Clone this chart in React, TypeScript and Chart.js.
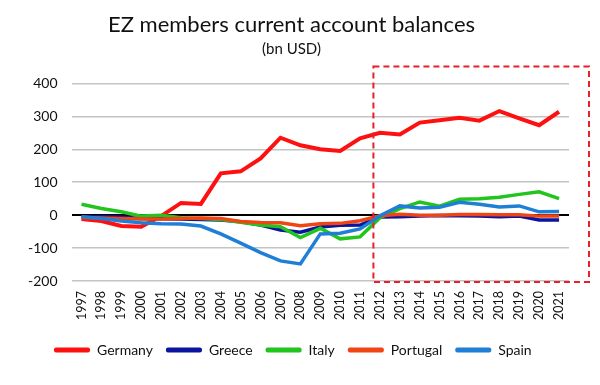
import React, { useEffect, useRef } from "react";
import { Chart, registerables } from "chart.js";
Chart.register(...registerables);

const years = ["1997","1998","1999","2000","2001","2002","2003","2004","2005","2006","2007","2008","2009","2010","2011","2012","2013","2014","2015","2016","2017","2018","2019","2020","2021"];
const germany = [-12,-18,-33,-35,-3,37,34,127,133,172,235,212,200,195,233,250,245,281,288,296,287,316,294,273,314];
const greece = [-5,-5,-6,-10,-11,-12,-13,-15,-20,-30,-45,-52,-36,-31,-30,-6,-5,-3,-1,-2,-3,-5,-3,-15,-15];
const italy = [33,20,10,-3,0,-8,-10,-13,-22,-30,-35,-68,-40,-72,-66,-8,20,40,27,48,50,54,63,71,50];
const portugal = [-7,-9,-10,-12,-12,-10,-9,-10,-19,-22,-23,-32,-26,-25,-17,-2,3,0,0,2,2,1,1,-3,-3];
const spain = [-5,-10,-18,-23,-26,-27,-33,-57,-85,-114,-139,-148,-57,-55,-42,-2,28,22,24,39,33,25,28,10,11];

const seriesNames = ["Germany", "Greece", "Italy", "Portugal", "Spain"];
const seriesColors = ["#ff1010", "#0a149c", "#22c41e", "#f04414", "#1f7fd6"];
const seriesData = [germany, greece, italy, portugal, spain];
const seriesWidths = [4, 3.5, 3.5, 3.5, 3.5];

const titleText = "EZ members current account balances";
const subtitleText = "(bn USD)";

const boxPlugin = {
  id: "dashedBox",
  afterDraw(chart: any) {
    const x = chart.scales.x;
    const y = chart.scales.y;
    const step = x.getPixelForValue(1) - x.getPixelForValue(0);
    const left = x.getPixelForValue(years.indexOf("2012")) - step * 0.33;
    const right = chart.chartArea.right + 20;
    const top = y.getPixelForValue(451);
    const bottom = y.getPixelForValue(-203);
    const ctx = chart.ctx;
    ctx.save();
    ctx.strokeStyle = "#e8202a";
    ctx.lineWidth = 2;
    ctx.setLineDash([6, 4]);
    ctx.strokeRect(left, top, right - left, bottom - top);
    ctx.restore();
  },
};

const legendShift = {
  id: "legendShift",
  afterLayout(chart: any) {
    const lg = chart.legend;
    if (lg) {
      lg.left += 27;
      lg.right += 27;
    }
  },
};

export default function App() {
  const ref = useRef<HTMLCanvasElement>(null);
  useEffect(() => {
    document.body.style.margin = "0";
    const chart = new Chart(ref.current!, {
      type: "line",
      data: {
        labels: years,
        datasets: seriesNames.map((n, i) => ({
          label: n,
          data: seriesData[i],
          borderColor: seriesColors[i],
          backgroundColor: seriesColors[i],
          borderWidth: seriesWidths[i],
          pointRadius: 0,
          tension: 0,
          fill: false,
          order: seriesNames.length - i,
        })),
      },
      options: {
        animation: false,
        responsive: false,
        layout: { padding: { left: 14, right: 31, top: 4, bottom: 18 } },
        plugins: {
          title: {
            display: true,
            text: titleText,
            color: "#111",
            font: { family: "Lato", size: 22, weight: "normal" },
            padding: { top: 8, bottom: 2 },
          },
          subtitle: {
            display: true,
            text: subtitleText,
            color: "#111",
            font: { family: "Lato", size: 15, weight: "normal" },
            padding: { top: 0, bottom: 25 },
          },
          legend: {
            position: "bottom",
            align: "start",
            labels: {
              boxWidth: 36,
              boxHeight: 5,
              padding: 13,
              color: "#111",
              font: { family: "Lato", size: 14 },
              generateLabels: (c: any) =>
                seriesNames.map((n, i) => ({
                  text: n,
                  fillStyle: seriesColors[i],
                  strokeStyle: seriesColors[i],
                  lineWidth: 0,
                  datasetIndex: i,
                  hidden: false,
                  fontColor: "#111",
                  borderRadius: 2,
                })),
            },
          },
          tooltip: { enabled: false },
        },
        scales: {
          x: {
            offset: true,
            grid: { display: false, drawTicks: false },
            border: { display: false },
            ticks: {
              minRotation: 90,
              maxRotation: 90,
              autoSkip: false,
              padding: 10,
              color: "#111",
              font: { family: "Lato", size: 12.5 },
            },
          },
          y: {
            min: -200,
            max: 400,
            grid: {
              drawTicks: false,
              color: (c: any) => (c.tick && c.tick.value === 0 ? "#000" : "#c4c4c4"),
              lineWidth: (c: any) => (c.tick && c.tick.value === 0 ? 2 : 1.5),
            },
            border: { display: false },
            ticks: {
              stepSize: 100,
              padding: 14,
              color: "#111",
              font: { family: "Lato", size: 14 },
            },
          },
        },
      },
      plugins: [boxPlugin, legendShift],
    } as any);
    return () => chart.destroy();
  }, []);
  return <canvas ref={ref} width={600} height={385} style={{ display: "block" }} />;
}
